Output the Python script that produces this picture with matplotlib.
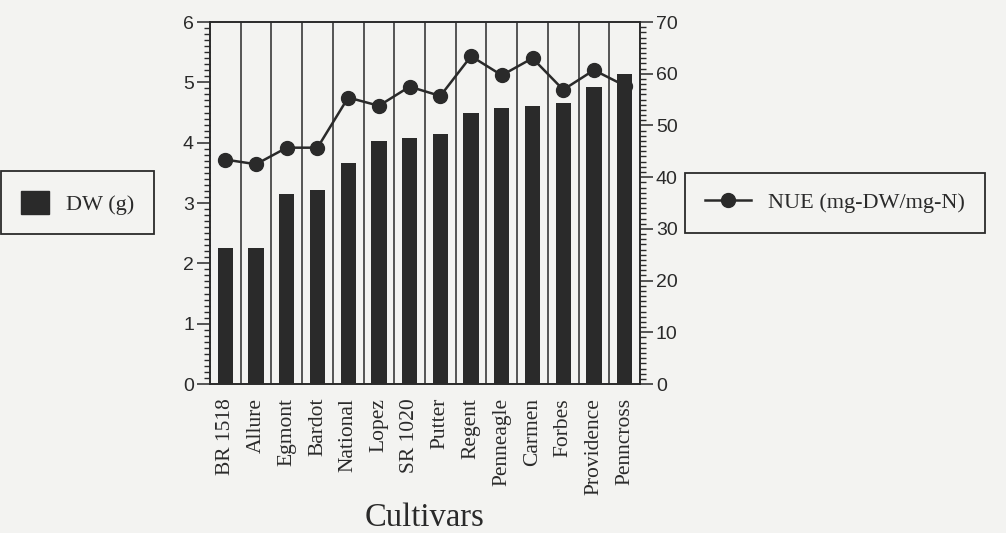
import numpy as np
import matplotlib
matplotlib.use('Agg')
import matplotlib.pyplot as plt
from matplotlib.patches import Patch
from matplotlib.lines import Line2D
from matplotlib.ticker import MultipleLocator

cultivars = ['BR 1518', 'Allure', 'Egmont', 'Bardot', 'National', 'Lopez', 'SR 1020',
             'Putter', 'Regent', 'Penneagle', 'Carmen', 'Forbes', 'Providence', 'Penncross']
dw = [2.25, 2.25, 3.15, 3.22, 3.66, 4.03, 4.08, 4.14, 4.49, 4.58, 4.61, 4.65, 4.93, 5.14]
nue = [43.4, 42.5, 45.7, 45.7, 55.4, 53.8, 57.5, 55.7, 63.4, 59.7, 63.0, 56.9, 60.7, 57.7]

bg = '#f3f3f1'
ink = '#2a2a2a'
serif = 'Liberation Serif'
sans = 'Liberation Sans'

fig = plt.figure(figsize=(10.06, 5.33), dpi=100, facecolor=bg)
ax = fig.add_axes([0.2087, 0.2795, 0.4275, 0.6792])
ax2 = ax.twinx()

x = np.arange(len(cultivars))

# bars sit on top of the line (Penncross marker is hidden in the original)
ax.set_zorder(2)
ax.patch.set_visible(False)
ax2.set_zorder(1)
ax2.patch.set_facecolor(bg)

ax.bar(x, dw, width=0.5, color=ink, zorder=3)
ax2.plot(x, nue, color=ink, lw=1.8, marker='o', ms=10, zorder=2)

ax.set_xlim(-0.5, len(cultivars) - 0.5)
ax.set_ylim(0, 6)
ax2.set_ylim(0, 70)

# vertical separators between cultivars
ax.set_xticks(x)
ax.set_xticks(x[:-1] + 0.5, minor=True)
ax.grid(which='minor', axis='x', color=ink, lw=1.1)
ax.set_xticklabels(cultivars, rotation=90, fontsize=15.5, family=serif, color=ink)
ax.tick_params(axis='x', which='both', length=0, pad=10)

ax.yaxis.set_major_locator(MultipleLocator(1))
ax.yaxis.set_minor_locator(MultipleLocator(0.1))
ax2.yaxis.set_major_locator(MultipleLocator(10))
ax2.yaxis.set_minor_locator(MultipleLocator(1))
for a in (ax, ax2):
    a.tick_params(axis='y', which='major', length=9.5, width=1.1, color=ink,
                  labelsize=14, pad=2)
    a.tick_params(axis='y', which='minor', length=4, width=1.0, color=ink)
    for lab in a.get_yticklabels():
        lab.set_family(sans)
        lab.set_color(ink)
    for s in a.spines.values():
        s.set_color(ink)
        s.set_linewidth(1.2)

ax.set_xlabel('Cultivars', fontsize=23.5, family=serif, color=ink)
ax.xaxis.label.set_va('baseline')
ax.xaxis.set_label_coords(0.5, -0.392)

h1 = [Patch(facecolor=ink, edgecolor=ink)]
h2 = [Line2D([], [], color=ink, lw=1.8, marker='o', ms=10)]
leg_kw = dict(frameon=True, fancybox=False, edgecolor=ink, facecolor=bg, framealpha=1,
              borderaxespad=0, borderpad=0.88, handletextpad=0.77,
              prop={'family': serif, 'size': 16})
leg1 = fig.legend(h1, ['DW (g)'], loc='upper right', bbox_to_anchor=(0.1531, 0.6792),
                  handlelength=1.27, handleheight=1.27, **leg_kw)
leg2 = fig.legend(h2, ['NUE (mg-DW/mg-N)'], loc='upper left', bbox_to_anchor=(0.6809, 0.6754),
                  handlelength=2.1, **leg_kw)
for leg in (leg1, leg2):
    leg.get_frame().set_linewidth(1.3)
    for t in leg.get_texts():
        t.set_color(ink)

fig.savefig('out.png', dpi=100, facecolor=bg)
